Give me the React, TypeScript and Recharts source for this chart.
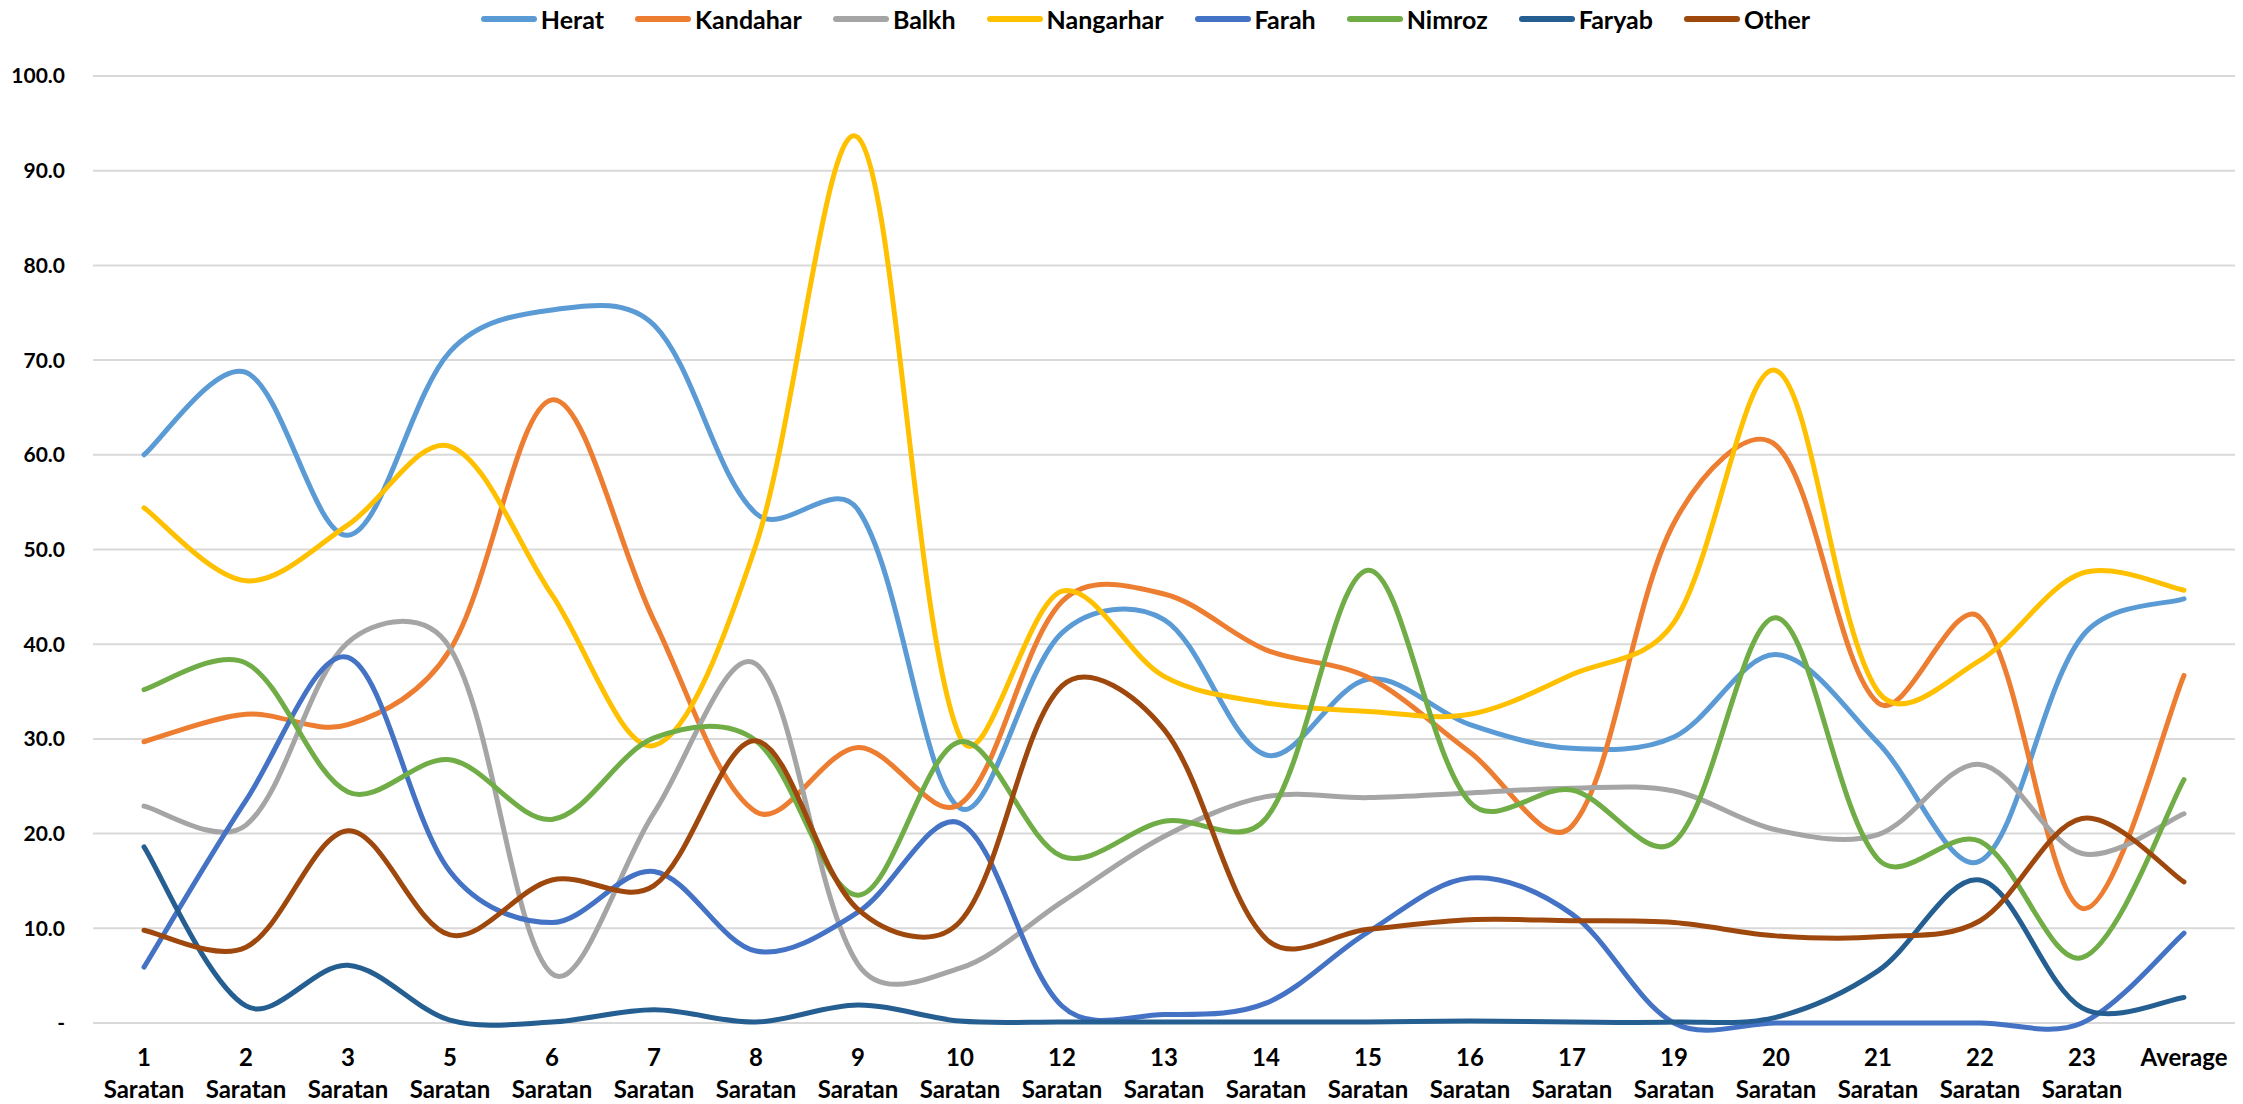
import React from 'react';
import { LineChart, Line, XAxis, YAxis, CartesianGrid, Legend } from 'recharts';

// Saratan days (last column is the average)
const categories = [
  '1 Saratan', '2 Saratan', '3 Saratan', '5 Saratan', '6 Saratan', '7 Saratan', '8 Saratan',
  '9 Saratan', '10 Saratan', '12 Saratan', '13 Saratan', '14 Saratan', '15 Saratan', '16 Saratan',
  '17 Saratan', '19 Saratan', '20 Saratan', '21 Saratan', '22 Saratan', '23 Saratan', 'Average',
];

const herat = [60.0, 68.7, 51.5, 70.9, 75.3, 73.7, 53.8, 54.2, 22.7, 41.2, 42.6, 28.3, 36.3, 31.5, 29.0, 30.2, 38.9, 29.6, 17.1, 40.8, 44.8];
const kandahar = [29.7, 32.6, 31.5, 39.4, 65.8, 42.5, 22.3, 29.1, 23.1, 44.5, 45.3, 39.4, 36.5, 28.6, 20.8, 52.8, 61.0, 33.8, 42.8, 12.1, 36.7];
const balkh = [22.9, 20.9, 40.2, 39.6, 5.2, 22.2, 37.9, 6.2, 5.8, 12.8, 19.7, 23.9, 23.8, 24.3, 24.8, 24.5, 20.4, 19.9, 27.3, 17.9, 22.1];
const nangarhar = [54.4, 46.7, 52.6, 60.9, 45.2, 29.3, 50.5, 93.5, 30.2, 45.6, 36.6, 33.8, 32.9, 32.6, 36.8, 42.3, 68.9, 35.0, 38.3, 47.5, 45.7];
const farah = [5.9, 23.5, 38.6, 16.0, 10.6, 16.0, 7.6, 11.7, 21.1, 1.8, 0.9, 2.1, 9.6, 15.3, 11.5, 0, 0, 0, 0, 0, 9.5];
const nimroz = [35.2, 38.0, 24.4, 27.8, 21.5, 30.1, 29.8, 13.5, 29.7, 17.6, 21.3, 21.6, 47.8, 23.3, 24.6, 19.1, 42.8, 17.3, 19.2, 6.9, 25.7];
const faryab = [18.6, 1.8, 6.1, 0.3, 0.1, 1.4, 0.1, 1.9, 0.2, 0.1, 0.1, 0.1, 0.1, 0.2, 0.1, 0.1, 0.6, 5.5, 15.1, 1.6, 2.7];
const other = [9.8, 8.0, 20.3, 9.3, 15.1, 14.5, 29.8, 12.0, 10.7, 35.6, 31.0, 8.9, 9.9, 10.9, 10.8, 10.6, 9.2, 9.1, 10.8, 21.6, 14.9];

const yTicks = [0, 10, 20, 30, 40, 50, 60, 70, 80, 90, 100];

const series = [
  { name: 'Herat', values: herat, color: '#5B9BD5' },
  { name: 'Kandahar', values: kandahar, color: '#ED7D31' },
  { name: 'Balkh', values: balkh, color: '#A5A5A5' },
  { name: 'Nangarhar', values: nangarhar, color: '#FFC000' },
  { name: 'Farah', values: farah, color: '#4472C4' },
  { name: 'Nimroz', values: nimroz, color: '#70AD47' },
  { name: 'Faryab', values: faryab, color: '#255E91' },
  { name: 'Other', values: other, color: '#9E480E' },
];

const data = categories.map((cat, i) => {
  const row: Record<string, string | number> = { day: cat };
  series.forEach(s => { row[s.name] = s.values[i]; });
  return row;
});

const FONT = 'Lato, "Open Sans", sans-serif';

// Excel-ish smoothed line: bezier through every point, tangent arms
// split by sqrt of neighbouring segment lengths so steep jumps overshoot less
const excelCurve = (context: any) => {
  let pts: number[][] = [];
  const len = (a: number[], b: number[]) => Math.sqrt(Math.hypot(b[0] - a[0], b[1] - a[1])) || 1;
  return {
    areaStart() {},
    areaEnd() {},
    lineStart() { pts = []; },
    point(x: number, y: number) { pts.push([+x, +y]); },
    lineEnd() {
      const n = pts.length;
      if (!n) return;
      context.moveTo(pts[0][0], pts[0][1]);
      if (n === 1) return;
      // arms[i] = [backward arm, forward arm] at point i
      const arms = pts.map((p, i) => {
        const prev = pts[Math.max(0, i - 1)];
        const next = pts[Math.min(n - 1, i + 1)];
        const dx = next[0] - prev[0];
        const dy = next[1] - prev[1];
        if (i === 0 || i === n - 1) {
          return [[dx / 6, dy / 6], [dx / 6, dy / 6]];
        }
        const dPrev = len(prev, p);
        const dNext = len(p, next);
        const wb = dPrev / (dPrev + dNext) / 3;
        const wf = dNext / (dPrev + dNext) / 3;
        return [[dx * wb, dy * wb], [dx * wf, dy * wf]];
      });
      for (let i = 0; i < n - 1; i++) {
        const p1 = pts[i];
        const p2 = pts[i + 1];
        const a1 = arms[i][1];
        const a2 = arms[i + 1][0];
        context.bezierCurveTo(p1[0] + a1[0], p1[1] + a1[1], p2[0] - a2[0], p2[1] - a2[1], p2[0], p2[1]);
      }
    },
  };
};

const DayTick = ({ x, y, payload }: any) => {
  const [day, month] = String(payload.value).split(' ');
  return (
    <text x={x} y={y} textAnchor="middle" fill="#000" fontSize={24} fontWeight={700} fontFamily={FONT}>
      <tspan x={x} dy={43}>{day}</tspan>
      {month && <tspan x={x} dy={31.5}>{month}</tspan>}
    </text>
  );
};

const LegendRow = () => (
  <div style={{ height: 76, display: 'flex', justifyContent: 'center', paddingLeft: 56, fontFamily: FONT }}>
    <div style={{ display: 'flex', alignItems: 'center', height: 38, gap: 31 }}>
      {series.map(s => (
        <div key={s.name} style={{ display: 'flex', alignItems: 'center', gap: 4 }}>
          <span style={{ width: 56, height: 6, borderRadius: 3, background: s.color, display: 'inline-block' }} />
          <span style={{ fontSize: 25, fontWeight: 700, color: '#000' }}>{s.name}</span>
        </div>
      ))}
    </div>
  </div>
);

const App: React.FC = () => (
  <div style={{ width: 2243, height: 1104, background: '#fff' }}>
    <style>{'body{margin:0;}'}</style>
    <LineChart width={2243} height={1104} data={data} margin={{ top: 0, right: 8, bottom: 0, left: 0 }}>
      <CartesianGrid vertical={false} stroke="#d9d9d9" strokeWidth={2} />
      <XAxis
        dataKey="day"
        axisLine={false}
        tickLine={false}
        tickSize={0}
        tickMargin={0}
        height={81}
        interval={0}
        padding={{ left: 51, right: 51 }}
        tick={<DayTick />}
      />
      <YAxis
        domain={[0, 100]}
        ticks={yTicks}
        width={93}
        axisLine={false}
        tickLine={false}
        tickSize={0}
        tickMargin={28}
        tickFormatter={(v: number) => (v === 0 ? '-' : v.toFixed(1))}
        tick={{ fontSize: 21, fontWeight: 700, fill: '#000', fontFamily: FONT }}
      />
      <Legend verticalAlign="top" align="center" content={<LegendRow />} />
      {series.map(s => (
        <Line
          key={s.name}
          dataKey={s.name}
          type={excelCurve as any}
          stroke={s.color}
          strokeWidth={5}
          strokeLinecap="round"
          dot={false}
          activeDot={false}
          isAnimationActive={false}
        />
      ))}
    </LineChart>
  </div>
);

export default App;
